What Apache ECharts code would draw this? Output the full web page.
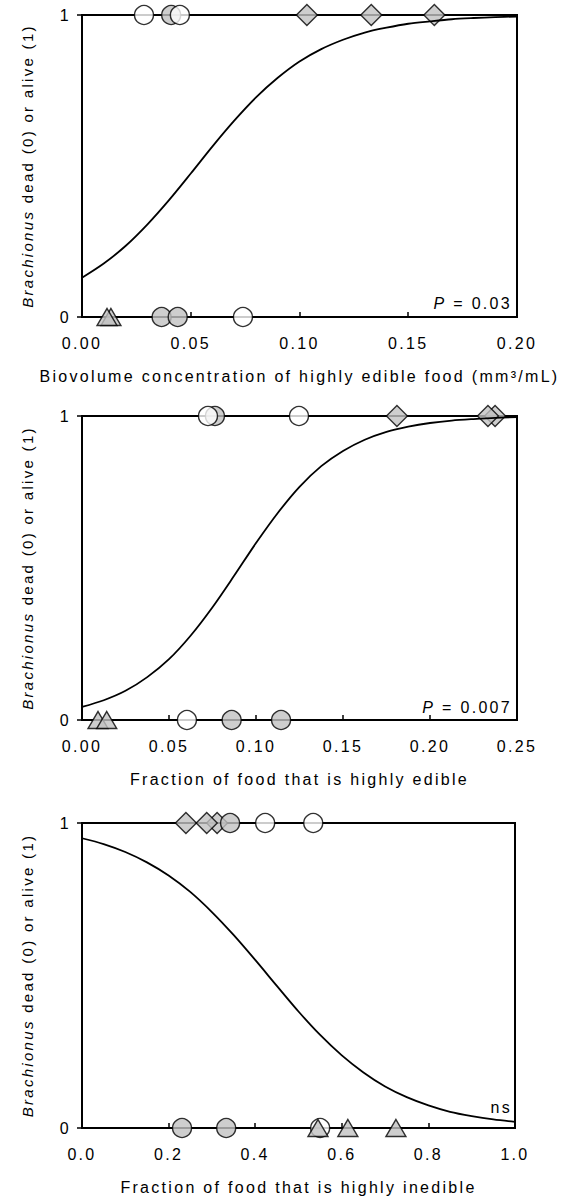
<!DOCTYPE html>
<html>
<head>
<meta charset="utf-8">
<script src="https://cdn.jsdelivr.net/npm/echarts@6/dist/echarts.min.js"></script>
<style>
  html, body { margin: 0; padding: 0; background: #fff; }
  #main { width: 569px; height: 1200px; }
  /* the reference type is spaced out a lot */
  #main svg text { letter-spacing: 2.3px; }
</style>
</head>
<body>
<div id="main"></div>
<script>
// panel 1: biovolume of highly edible food
var p1Open = [[0.0285, 1], [0.045, 1], [0.074, 0]];
var p1Grey = [[0.041, 1], [0.0366, 0], [0.044, 0]];
var p1Diamond = [[0.1034, 1], [0.133, 1], [0.162, 1]];
var p1Triangle = [[0.0133, 0], [0.0115, 0]];
var p1CurveX = [0, 0.01, 0.02, 0.03, 0.04, 0.05, 0.06, 0.07, 0.08, 0.09, 0.10, 0.11, 0.12, 0.13, 0.14, 0.15, 0.16, 0.17, 0.18, 0.19, 0.20];
var p1CurveY = [0.130, 0.177, 0.235, 0.306, 0.387, 0.475, 0.565, 0.650, 0.727, 0.792, 0.846, 0.887, 0.918, 0.942, 0.958, 0.971, 0.979, 0.986, 0.990, 0.993, 0.995];

// panel 2: fraction highly edible
var p2Open = [[0.0724, 1], [0.1247, 1], [0.0603, 0]];
var p2Grey = [[0.0764, 1], [0.086, 0], [0.1144, 0]];
var p2Diamond = [[0.181, 1], [0.2374, 1], [0.2333, 1]];
var p2Triangle = [[0.0092, 0], [0.0142, 0]];
var p2CurveX = [0, 0.0125, 0.025, 0.0375, 0.05, 0.0625, 0.075, 0.0875, 0.10, 0.1125, 0.125, 0.1375, 0.15, 0.1625, 0.175, 0.1875, 0.20, 0.2125, 0.225, 0.2375, 0.25];
var p2CurveY = [0.043, 0.065, 0.096, 0.141, 0.200, 0.278, 0.371, 0.475, 0.582, 0.681, 0.767, 0.835, 0.885, 0.922, 0.948, 0.965, 0.977, 0.985, 0.990, 0.994, 0.996];

// panel 3: fraction highly inedible
var p3Open = [[0.423, 1], [0.534, 1], [0.550, 0]];
var p3Grey = [[0.342, 1], [0.231, 0], [0.333, 0]];
var p3Diamond = [[0.240, 1], [0.312, 1], [0.288, 1]];
var p3Triangle = [[0.545, 0], [0.614, 0], [0.725, 0]];
var p3CurveX = [0, 0.05, 0.1, 0.15, 0.2, 0.25, 0.3, 0.35, 0.4, 0.45, 0.5, 0.55, 0.6, 0.65, 0.7, 0.75, 0.8, 0.85, 0.9, 0.95, 1.0];
var p3CurveY = [0.950, 0.931, 0.905, 0.871, 0.828, 0.774, 0.708, 0.633, 0.551, 0.466, 0.382, 0.305, 0.238, 0.182, 0.136, 0.101, 0.074, 0.053, 0.039, 0.028, 0.020];

var xMax = [0.2, 0.25, 1.0];
var xStep = [0.05, 0.05, 0.2];
var xDigits = [2, 2, 1];
var xNames = [
  "Biovolume concentration of highly edible food (mm\u00b3/mL)",
  "Fraction of food that is highly edible",
  "Fraction of food that is highly inedible"
];
var noteValues = [" = 0.03", " = 0.007", "ns"];

var font = "Liberation Sans";
var spacing = 2.3;
var grey = "#c2c2c2";
var gridTops = [15, 416, 823];
var gridHeights = [302, 304, 305];
var gridWidths = [435, 435, 433];

// rich text pieces are laid out by width, so widen them by the css spacing
var ctx = document.createElement("canvas").getContext("2d");
function spacedWidth(s, size, italic) {
  ctx.font = (italic ? "italic " : "") + size + "px '" + font + "'";
  return ctx.measureText(s).width + s.length * spacing;
}

function zip(xs, ys) {
  var out = [];
  for (var i = 0; i < xs.length; i++) out.push([xs[i], ys[i]]);
  return out;
}

var panels = [
  { open: p1Open, grey: p1Grey, diamond: p1Diamond, tri: p1Triangle, curve: zip(p1CurveX, p1CurveY) },
  { open: p2Open, grey: p2Grey, diamond: p2Diamond, tri: p2Triangle, curve: zip(p2CurveX, p2CurveY) },
  { open: p3Open, grey: p3Grey, diamond: p3Diamond, tri: p3Triangle, curve: zip(p3CurveX, p3CurveY) }
];

var yName1 = "Brachionus";
var yName2 = " dead (0) or alive (1)";

var grids = [], xAxes = [], yAxes = [], series = [], graphics = [];

panels.forEach(function (p, i) {
  grids.push({
    left: 82, width: gridWidths[i], top: gridTops[i], height: gridHeights[i],
    show: true, borderColor: "#000", borderWidth: 2
  });
  var d = xDigits[i];
  xAxes.push({
    gridIndex: i, type: "value", min: 0, max: xMax[i], interval: xStep[i],
    axisLine: { lineStyle: { color: "#000", width: 2 } },
    axisTick: { inside: true, length: 5, lineStyle: { color: "#000", width: 1.5 } },
    axisLabel: { margin: 18, color: "#000", fontSize: 16, fontFamily: font,
      formatter: function (v) { return v.toFixed(d); } },
    splitLine: { show: false },
    name: xNames[i], nameLocation: "middle", nameGap: 51,
    nameTextStyle: { color: "#000", fontSize: 16, fontFamily: font }
  });
  yAxes.push({
    gridIndex: i, type: "value", min: 0, max: 1, interval: 1,
    axisLine: { show: true, lineStyle: { color: "#000", width: 2 } },
    axisTick: { show: true, length: 5, lineStyle: { color: "#000", width: 1.5 } },
    axisLabel: { margin: 11, color: "#000", fontSize: 16, fontFamily: font },
    splitLine: { show: false },
    name: "{i|" + yName1 + "}{r|" + yName2 + "}",
    nameLocation: "middle", nameGap: 47, nameRotate: 90,
    nameTextStyle: {
      color: "#000", fontSize: 15, fontFamily: font,
      rich: {
        i: { fontStyle: "italic", fontSize: 15, fontFamily: font, color: "#000", width: spacedWidth(yName1, 15, true) },
        r: { fontSize: 15, fontFamily: font, color: "#000", width: spacedWidth(yName2, 15, false) }
      }
    }
  });

  var edge = { borderColor: "#000", borderWidth: 1.4 };
  series.push({
    type: "scatter", xAxisIndex: i, yAxisIndex: i, symbol: "diamond", symbolSize: 21,
    itemStyle: Object.assign({ color: grey }, edge), data: p.diamond, silent: true
  });
  series.push({
    type: "scatter", xAxisIndex: i, yAxisIndex: i, symbol: "circle", symbolSize: 19,
    itemStyle: Object.assign({ color: grey }, edge), data: p.grey, silent: true
  });
  series.push({
    type: "scatter", xAxisIndex: i, yAxisIndex: i, symbol: "circle", symbolSize: 19,
    itemStyle: Object.assign({ color: "#fff" }, edge), data: p.open, silent: true
  });
  series.push({
    type: "scatter", xAxisIndex: i, yAxisIndex: i, symbol: "triangle", symbolSize: [20, 17],
    itemStyle: Object.assign({ color: grey }, edge), data: p.tri, silent: true
  });
  series.push({
    type: "line", xAxisIndex: i, yAxisIndex: i, smooth: 0.3, showSymbol: false,
    lineStyle: { color: "#000", width: 1.8 }, data: p.curve, silent: true, z: 3
  });

  // P value / ns note in the lower right corner
  var noteText, noteRich;
  if (i === 2) {
    noteText = "{r|" + noteValues[i] + "}";
    noteRich = { r: { fontSize: 16, fontFamily: font, fill: "#000", width: spacedWidth(noteValues[i], 16, false) } };
  } else {
    noteText = "{i|P}{r|" + noteValues[i] + "}";
    noteRich = {
      i: { fontStyle: "italic", fontSize: 16, fontFamily: font, fill: "#000", width: spacedWidth("P", 16, true) },
      r: { fontSize: 16, fontFamily: font, fill: "#000", width: spacedWidth(noteValues[i], 16, false) }
    };
  }
  var noteY = [303, 707, 1107];
  graphics.push({
    type: "text", x: 512, y: noteY[i],
    style: { text: noteText, fill: "#000", align: "right", verticalAlign: "middle", rich: noteRich }
  });
});

var chartDom = document.getElementById("main");
var myChart = echarts.init(chartDom, null, { renderer: "svg" });
var option = {
  animation: false,
  backgroundColor: "#fff",
  grid: grids,
  xAxis: xAxes,
  yAxis: yAxes,
  series: series,
  graphic: graphics
};
option && myChart.setOption(option);
</script>
</body>
</html>
